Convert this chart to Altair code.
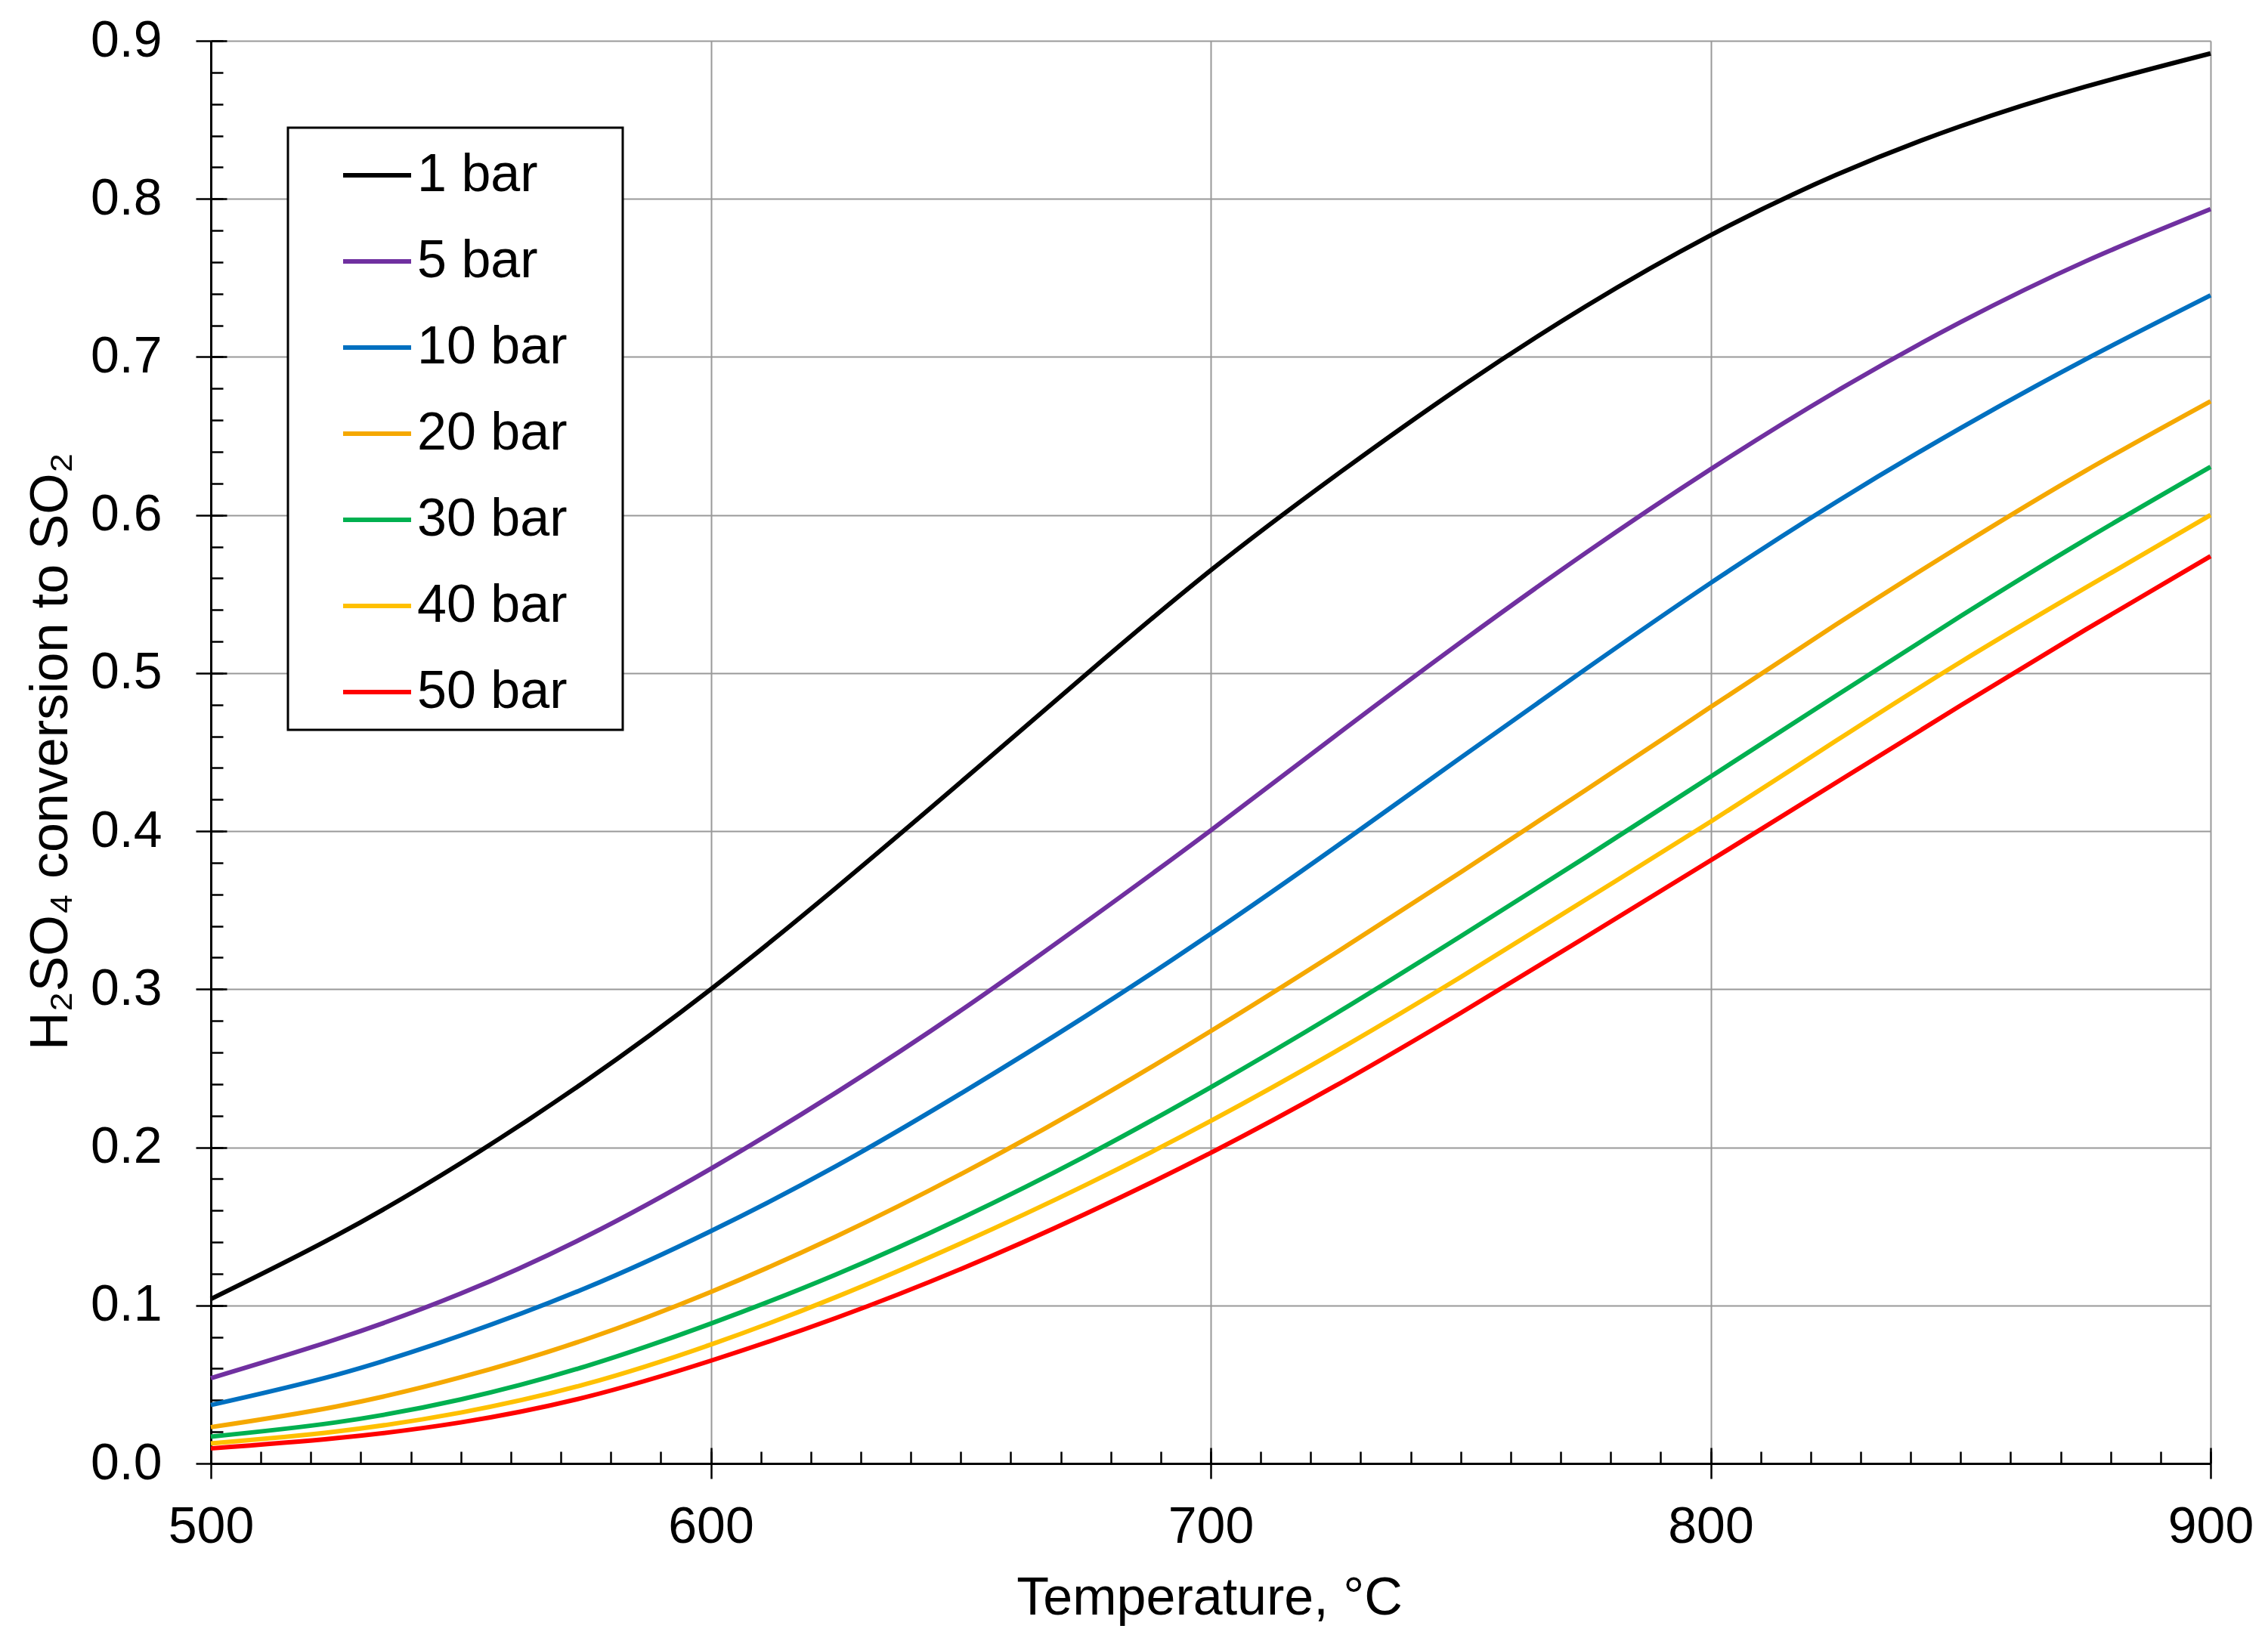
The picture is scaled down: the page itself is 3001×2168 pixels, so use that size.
import altair as alt
import pandas as pd

temps = [500, 525, 550, 575, 600, 625, 650, 675, 700, 725, 750, 775, 800, 825, 850, 875, 900]

series_names = ["1 bar", "5 bar", "10 bar", "20 bar", "30 bar", "40 bar", "50 bar"]
series_colors = ["#000000", "#7030A0", "#0070C0", "#F5A800", "#00B050", "#FFC000", "#FF0000"]

bar1 = [0.104, 0.144, 0.190, 0.242, 0.300, 0.364, 0.431, 0.499, 0.565, 0.625, 0.681, 0.732, 0.777, 0.815, 0.846, 0.871, 0.892]
bar5 = [0.054, 0.0785, 0.1075, 0.1435, 0.1865, 0.2345, 0.2865, 0.3425, 0.4005, 0.4605, 0.5195, 0.576, 0.629, 0.678, 0.722, 0.7605, 0.7935]
bar10 = [0.037, 0.056, 0.081, 0.111, 0.147, 0.188, 0.234, 0.283, 0.335, 0.390, 0.4465, 0.5025, 0.557, 0.608, 0.655, 0.6985, 0.739]
bar20 = [0.023, 0.036, 0.0545, 0.0785, 0.1085, 0.1435, 0.183, 0.2265, 0.2735, 0.323, 0.374, 0.426, 0.4785, 0.5305, 0.5805, 0.628, 0.672]
bar30 = [0.017, 0.026, 0.0405, 0.0615, 0.0885, 0.1195, 0.155, 0.1945, 0.238, 0.2845, 0.3335, 0.3835, 0.4345, 0.4855, 0.536, 0.5845, 0.6305]
bar40 = [0.0127, 0.0202, 0.0322, 0.0502, 0.0752, 0.1052, 0.1392, 0.1762, 0.2167, 0.2607, 0.3077, 0.3567, 0.406, 0.457, 0.507, 0.554, 0.600]
bar50 = [0.0095, 0.016, 0.026, 0.042, 0.065, 0.092, 0.123, 0.158, 0.1965, 0.239, 0.285, 0.333, 0.3815, 0.4305, 0.4795, 0.5275, 0.574]

x_major = [500, 600, 700, 800, 900]
x_minor = list(range(500, 901, 10))
y_major = [0.0, 0.1, 0.2, 0.3, 0.4, 0.5, 0.6, 0.7, 0.8, 0.9]
y_minor = [round(i * 0.02, 2) for i in range(46)]

all_series = [bar1, bar5, bar10, bar20, bar30, bar40, bar50]
rows = []
for name, vals in zip(series_names, all_series):
    for t, v in zip(temps, vals):
        rows.append({"T": t, "v": v, "series": name})
df = pd.DataFrame(rows)

FONT = "Liberation Sans"
xscale = alt.Scale(domain=[500, 900], nice=False, zero=False)
yscale = alt.Scale(domain=[0, 0.9], nice=False)

main = alt.Chart(df).mark_line(strokeWidth=6, interpolate="natural").encode(
    x=alt.X("T:Q", scale=xscale,
            axis=alt.Axis(orient="bottom", values=x_major, format="d", tickSize=20, tickWidth=2.5,
                          tickColor="black", domainColor="black", domainWidth=3,
                          grid=True, gridColor="#999999", gridWidth=2,
                          labelFont=FONT, labelFontSize=68, labelColor="black",
                          labelPadding=64, labelBaseline="middle", labelFlush=False,
                          title="Temperature, °C", titleFont=FONT, titleFontSize=70,
                          titleFontWeight="normal", titleColor="black",
                          titleX=1321, titleY=178, titleBaseline="middle", titleAlign="center")),
    y=alt.Y("v:Q", scale=yscale,
            axis=alt.Axis(orient="left", values=y_major, format=".1f", tickSize=20, tickWidth=2.5,
                          tickColor="black", domainColor="black", domainWidth=3,
                          grid=True, gridColor="#999999", gridWidth=2,
                          labelFont=FONT, labelFontSize=68, labelColor="black",
                          labelPadding=45, labelBaseline="middle", labelFlush=False,
                          title="H₂SO₄ conversion to SO₂", titleFont=FONT, titleFontSize=70,
                          titleFontWeight="normal", titleColor="black",
                          titleX=-212, titleY=940, titleBaseline="middle", titleAlign="center",
                          titleAngle=270)),
    color=alt.Color("series:N",
                    scale=alt.Scale(domain=series_names, range=series_colors),
                    legend=alt.Legend(orient="none", legendX=102, legendY=115, title=None,
                                      symbolType="stroke", symbolSize=8100, symbolStrokeWidth=6,
                                      symbolOffset=55, labelOffset=5, rowPadding=31, padding=15,
                                      labelFont=FONT, labelFontSize=70, labelColor="black",
                                      labelLimit=600,
                                      labelExpr="datum.label + '\u00a0\u00a0\u00a0\u200b'",
                                      strokeColor="black", fillColor="white")),
)

minor = alt.Chart(df).mark_line(opacity=0).encode(
    x=alt.X("T:Q", axis=alt.Axis(orient="bottom", offset=-16, values=x_minor, tickSize=16, tickWidth=2.5,
                                 tickColor="black", domain=False, labels=False, grid=False, title=None)),
    y=alt.Y("v:Q", axis=alt.Axis(orient="left", offset=-16, values=y_minor, tickSize=16, tickWidth=2.5,
                                 tickColor="black", domain=False, labels=False, grid=False, title=None)),
)

majin = alt.Chart(df).mark_line(opacity=0).encode(
    x=alt.X("T:Q", axis=alt.Axis(orient="bottom", offset=-21, values=x_major, tickSize=21, tickWidth=2.5,
                                 tickColor="black", domain=False, labels=False, grid=False, title=None)),
    y=alt.Y("v:Q", axis=alt.Axis(orient="left", offset=-21, values=y_major, tickSize=21, tickWidth=2.5,
                                 tickColor="black", domain=False, labels=False, grid=False, title=None)),
)

chart = alt.layer(main, minor, majin).resolve_axis(x="independent", y="independent").properties(
    width=2646, height=1883,
    autosize=alt.AutoSizeParams(type="none"),
    padding={"left": 271, "top": 46, "right": 68, "bottom": 222},
    background="white",
).configure_view(stroke=None).configure_legend(strokeWidth=3)

chart.save("out.html", embed_options={"renderer": "svg", "actions": False})
